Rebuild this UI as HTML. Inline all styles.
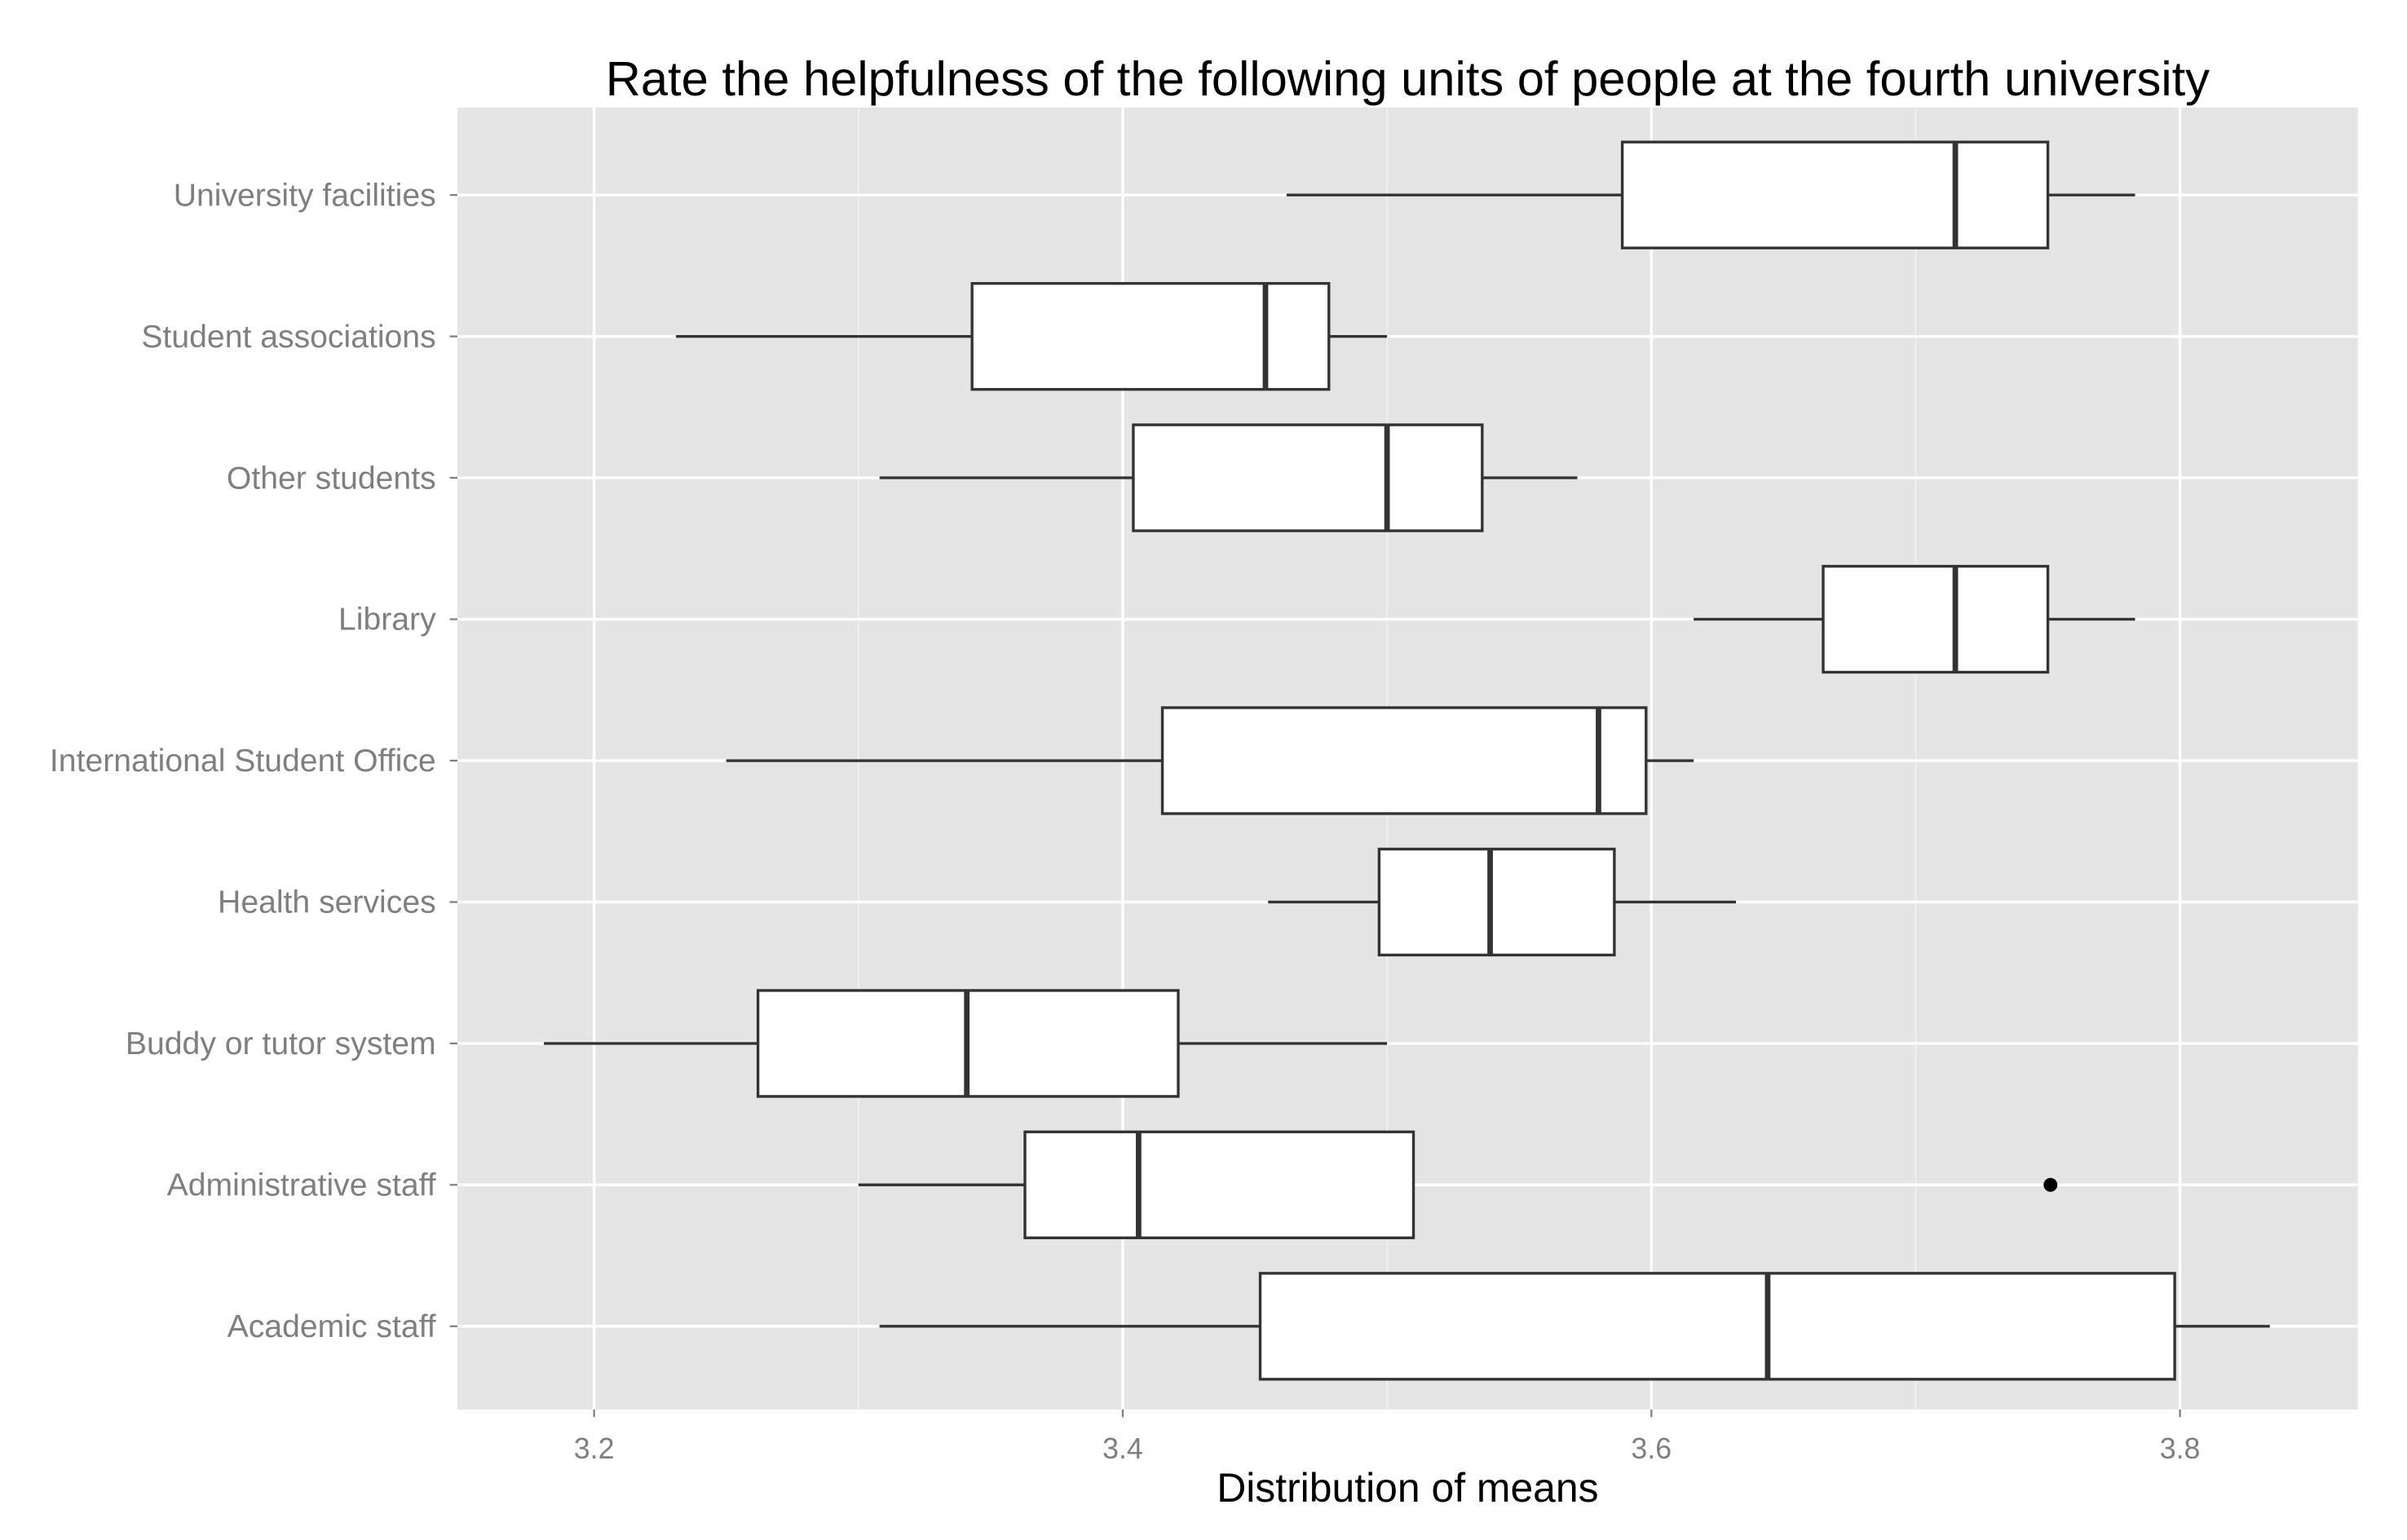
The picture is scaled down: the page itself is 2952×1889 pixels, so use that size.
<!DOCTYPE html>
<html><head><meta charset="utf-8"><style>html,body{margin:0;padding:0;background:#fff}svg{display:block}</style></head>
<body>
<svg id="chart" width="2952" height="1889" viewBox="0 0 1568 1003" preserveAspectRatio="none" xmlns="http://www.w3.org/2000/svg" font-family="Liberation Sans, Arial, sans-serif"></svg>
<script>
const categories = ["University facilities","Student associations","Other students","Library","International Student Office","Health services","Buddy or tutor system","Administrative staff","Academic staff"];
const whiskerLow = [3.462,3.231,3.308,3.616,3.250,3.455,3.181,3.300,3.308];
const q1 = [3.589,3.343,3.404,3.665,3.415,3.497,3.262,3.363,3.452];
const medians = [3.715,3.454,3.500,3.715,3.580,3.539,3.341,3.406,3.644];
const q3 = [3.750,3.478,3.536,3.750,3.598,3.586,3.421,3.510,3.798];
const whiskerHigh = [3.783,3.500,3.572,3.783,3.616,3.632,3.500,3.510,3.834];
const outlierCats = ["Administrative staff"];
const outlierVals = [3.751];
const majorTicks = [3.2,3.4,3.6,3.8];
const minorTicks = [3.3,3.5,3.7];
const tickLabels = ["3.2","3.4","3.6","3.8"];

const NS="http://www.w3.org/2000/svg";
const svg=document.getElementById('chart');
const L=298,R=1536,T=70,B=918;
const xDomain=[3.1483,3.8673];
const x=v=>L+(v-xDomain[0])/(xDomain[1]-xDomain[0])*(R-L);
const yTop=127,yStep=92.1;
const y=c=>yTop+categories.indexOf(c)*yStep;
function mk(tag,attrs,parent){const e=document.createElementNS(NS,tag);for(const k in attrs)e.setAttribute(k,attrs[k]);(parent||svg).appendChild(e);return e;}

let panel=mk('rect',{x:L,y:T,width:R-L,height:B-T,fill:'#e5e5e5'});


minorTicks.forEach(v=>{const l=mk('line',{x1:x(v),x2:x(v),y1:T,y2:B,stroke:'#f2f2f2','stroke-width':0.8});

});
majorTicks.forEach((v,i)=>{const l=mk('line',{x1:x(v),x2:x(v),y1:T,y2:B,stroke:'#fff','stroke-width':1.8});


const t=mk('line',{x1:x(v),x2:x(v),y1:B,y2:B+5,stroke:'#7f7f7f','stroke-width':1.2});


const tx=mk('text',{x:x(v),y:B+32,'text-anchor':'middle','font-size':19,fill:'#7f7f7f'});tx.textContent=tickLabels[i];

});
categories.forEach((c,i)=>{const yy=y(c);
const g=mk('line',{x1:L,x2:R,y1:yy,y2:yy,stroke:'#fff','stroke-width':1.8});


const t=mk('line',{x1:L-5,x2:L,y1:yy,y2:yy,stroke:'#7f7f7f','stroke-width':1.2});


const tx=mk('text',{x:L-14,y:yy+7,'text-anchor':'end','font-size':20.8,fill:'#7f7f7f'});tx.textContent=c;

});
categories.forEach((c,i)=>{const yy=y(c),h=34.5;
const g=mk('g',{});


mk('line',{x1:x(whiskerLow[i]),x2:x(q1[i]),y1:yy,y2:yy,stroke:'#333','stroke-width':1.8},g);
mk('line',{x1:x(q3[i]),x2:x(whiskerHigh[i]),y1:yy,y2:yy,stroke:'#333','stroke-width':1.8},g);
mk('rect',{x:x(q1[i]),y:yy-h,width:x(q3[i])-x(q1[i]),height:2*h,fill:'#fff',stroke:'#333','stroke-width':1.8},g);
mk('line',{x1:x(medians[i]),x2:x(medians[i]),y1:yy-h,y2:yy+h,stroke:'#333','stroke-width':3.6},g);});
outlierCats.forEach((c,i)=>{const p=mk('circle',{cx:x(outlierVals[i]),cy:y(c),r:4.5,fill:'#000'});

});
let tt=mk('text',{x:917,y:62,'text-anchor':'middle','font-size':31.7,fill:'#000'});tt.textContent='Rate the helpfulness of the following units of people at the fourth university';


let xt=mk('text',{x:917,y:978,'text-anchor':'middle','font-size':26.5,fill:'#000'});xt.textContent='Distribution of means';


</script>
</body></html>
